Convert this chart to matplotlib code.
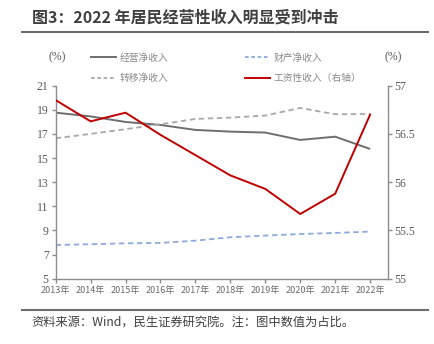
import matplotlib.pyplot as plt
from matplotlib.lines import Line2D

plt.rcParams['font.family'] = ['Noto Sans CJK SC', 'DejaVu Sans']

years = ["2013年", "2014年", "2015年", "2016年", "2017年",
         "2018年", "2019年", "2020年", "2021年", "2022年"]
business = [18.76, 18.45, 17.99, 17.74, 17.33, 17.19, 17.11, 16.50, 16.77, 15.75]
property_inc = [7.79, 7.85, 7.93, 7.96, 8.15, 8.43, 8.57, 8.70, 8.79, 8.90]
transfer = [16.64, 17.00, 17.39, 17.80, 18.24, 18.35, 18.52, 19.15, 18.63, 18.65]
wages = [56.85, 56.63, 56.72, 56.49, 56.28, 56.07, 55.93, 55.67, 55.88, 56.70]

left_ticks = [5, 7, 9, 11, 13, 15, 17, 19, 21]
right_ticks = [55, 55.5, 56, 56.5, 57]
right_labels = ["55", "55.5", "56", "56.5", "57"]

num_font = ['Liberation Serif', 'Noto Sans CJK SC']
axis_grey = '#8c8c8c'
text_grey = '#595959'

fig = plt.figure(figsize=(4.35, 3.44), dpi=100)
ax = fig.add_axes([0.128, 0.190, 0.763, 0.561])
ax2 = ax.twinx()

x = list(range(len(years)))
ax.plot(x, business, color='#6e6e6e', lw=1.4, solid_capstyle='butt')
ax.plot(x, property_inc, color='#8eaadc', lw=1.3, ls=(0, (3, 2)))
ax.plot(x, transfer, color='#a8a8a8', lw=1.3, ls=(0, (3, 2)))
ax2.plot(x, wages, color='#c00000', lw=1.4)

ax.set_xlim(0, 9.5)
ax.set_ylim(5, 21)
ax2.set_ylim(55, 57)
ax.set_yticks(left_ticks)
ax.set_yticklabels([str(v) for v in left_ticks], family=num_font, fontsize=8.5, color=text_grey)
ax2.set_yticks(right_ticks)
ax2.set_yticklabels(right_labels, family=num_font, fontsize=8.5, color=text_grey)
ax.set_xticks(x)
ax.set_xticklabels(years, fontsize=6.5, color='#6a6a6a')

for a in (ax, ax2):
    a.spines['top'].set_visible(False)
    for side in ('left', 'right', 'bottom'):
        a.spines[side].set_color(axis_grey)
        a.spines[side].set_linewidth(1.0)
    a.tick_params(axis='both', color=axis_grey, length=3, width=1, pad=2)
ax.spines['right'].set_visible(False)
ax2.spines['left'].set_visible(False)
ax2.spines['bottom'].set_visible(False)

# units above each axis
fig.text(0.131, 0.825, "(%)", family=num_font, fontsize=8.5, color=text_grey, ha='center')
fig.text(0.905, 0.825, "(%)", family=num_font, fontsize=8.5, color=text_grey, ha='center')

# legend filled column by column: left column first, then right
handles = [
    Line2D([], [], color='#6e6e6e', lw=1.4),
    Line2D([], [], color='#a8a8a8', lw=1.3, ls=(0, (2, 1.5))),
    Line2D([], [], color='#8eaadc', lw=1.3, ls=(0, (2, 1.5))),
    Line2D([], [], color='#c00000', lw=1.4),
]
labels = ["经营净收入", "转移净收入", "财产净收入", "工资性收入（右轴）"]
fig.legend(handles, labels, ncol=2, loc='upper left', bbox_to_anchor=(0.202, 0.855),
           frameon=False, fontsize=7, labelcolor='#8a8a8a', handlelength=2.6,
           handletextpad=0.4, columnspacing=7.8, labelspacing=1.05,
           borderaxespad=0, borderpad=0.3)

fig.text(0.074, 0.948, "图3：2022 年居民经营性收入明显受到冲击", fontsize=11.5,
         fontweight='bold', color='#404040', va='center')
fig.add_artist(Line2D([0.05, 0.984], [0.907, 0.907], color='#6e6e6e', lw=1.5))
fig.add_artist(Line2D([0.05, 0.984], [0.099, 0.099], color='#6e6e6e', lw=1.5))
fig.text(0.072, 0.061, "资料来源：Wind，民生证券研究院。注：图中数值为占比。",
         fontsize=8.8, color='#404040', va='center')

fig.savefig("out.png", dpi=100)
